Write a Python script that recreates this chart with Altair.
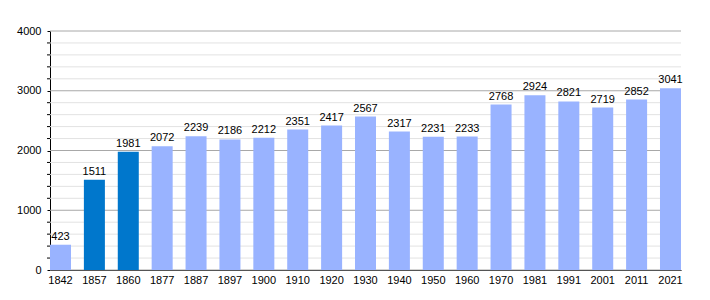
import altair as alt
import pandas as pd

years = ["1842", "1857", "1860", "1877", "1887", "1897", "1900", "1910", "1920", "1930",
         "1940", "1950", "1960", "1970", "1981", "1991", "2001", "2011", "2021"]
population = [423, 1511, 1981, 2072, 2239, 2186, 2212, 2351, 2417, 2567,
              2317, 2231, 2233, 2768, 2924, 2821, 2719, 2852, 3041]
highlight = ["no", "yes", "yes"] + ["no"] * 16
minor_values = [v for v in range(200, 4000, 200) if v % 1000 != 0]
major_values = [0, 1000, 2000, 3000, 4000]

df = pd.DataFrame({"year": years, "pop": population, "hl": highlight})
minor_df = pd.DataFrame({"v": minor_values})
major_df = pd.DataFrame({"v": major_values})

y_scale = alt.Scale(domain=[0, 4000], nice=False)
y_axis = alt.Axis(values=major_values, format="d", grid=False,
                  labelFont="Liberation Sans", labelFontSize=11,
                  labelColor="#000", tickColor="#000", tickSize=3, labelPadding=6,
                  domainColor="#000")

minor_grid = alt.Chart(minor_df).mark_rule(color="#e2e2e2", strokeWidth=1).encode(
    y=alt.Y("v:Q", scale=y_scale, axis=y_axis, title=None), x=alt.value(0), x2=alt.value(631))
major_grid = alt.Chart(major_df).mark_rule(color="#a8a8a8", strokeWidth=1).encode(
    y=alt.Y("v:Q", scale=y_scale, axis=y_axis, title=None), x=alt.value(0), x2=alt.value(631))
minor_ticks = alt.Chart(minor_df).mark_rule(color="#000", strokeWidth=1).encode(
    y=alt.Y("v:Q", scale=y_scale, axis=y_axis, title=None), x=alt.value(-3), x2=alt.value(0))

bars = alt.Chart(df).mark_bar().encode(
    x=alt.X("year:N", sort=None, title=None,
            scale=alt.Scale(paddingInner=0.38, paddingOuter=0),
            axis=alt.Axis(labelAngle=0, ticks=False, domainColor="#000", domainWidth=1,
                          labelFont="Liberation Sans", labelFontSize=11, labelColor="#000",
                          labelPadding=4)),
    y=alt.Y("pop:Q", scale=y_scale, title=None, axis=y_axis),
    color=alt.Color("hl:N", scale=alt.Scale(domain=["no", "yes"], range=["#99b3ff", "#0077cc"]), legend=None),
)

labels = alt.Chart(df).mark_text(baseline="bottom", dy=-3, font="Liberation Sans", fontSize=11, color="#000").encode(
    x=alt.X("year:N", sort=None),
    y=alt.Y("pop:Q", scale=y_scale, title=None, axis=y_axis),
    text=alt.Text("pop:Q", format="d"),
)

chart = (minor_grid + major_grid + minor_ticks + bars + labels).properties(
    width=631, height=239,
    autosize=alt.AutoSizeParams(type="none"),
    padding={"left": 50, "top": 31, "right": 29, "bottom": 30},
).configure_view(stroke=None)

chart.save("out.html", embed_options={"renderer": "svg", "actions": False})
